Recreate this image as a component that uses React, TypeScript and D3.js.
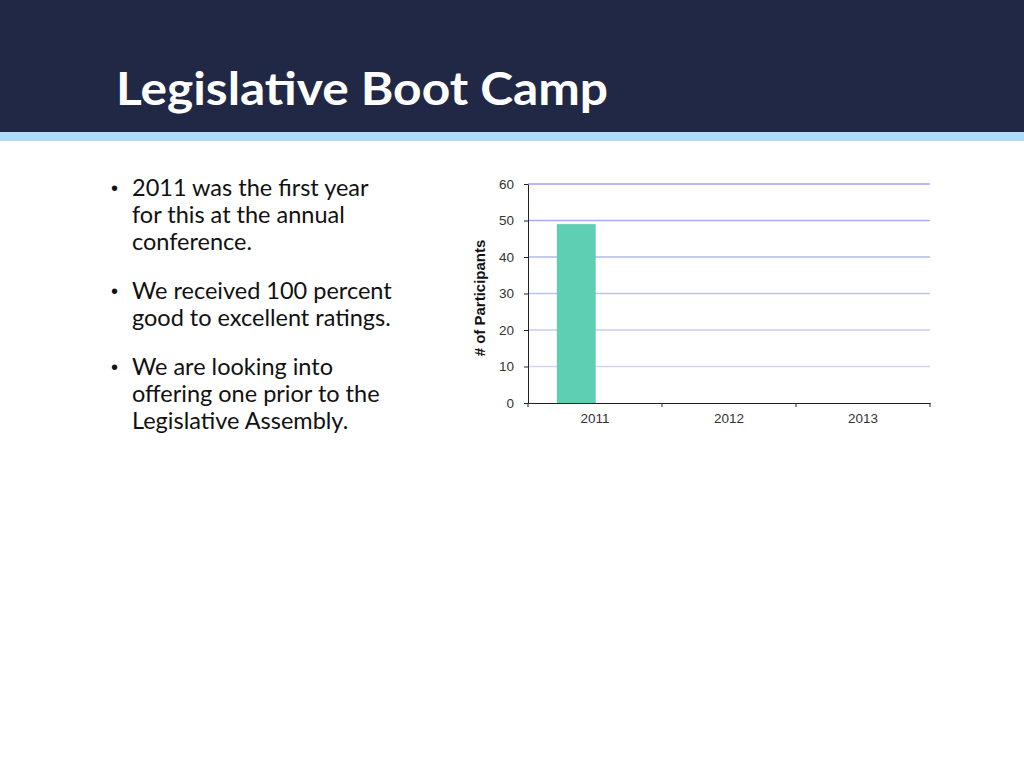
import React, {FC, useEffect, useRef} from 'react';
import * as d3 from 'd3';

const years = ['2011', '2012', '2013'];
const participants = [49, 0, 0];
const yTicks = [0, 10, 20, 30, 40, 50, 60];

const title = 'Legislative Boot Camp';
const bullets = [
  ['2011 was the first year', 'for this at the annual', 'conference.'],
  ['We received 100 percent', 'good to excellent ratings.'],
  ['We are looking into', 'offering one prior to the', 'Legislative Assembly.'],
];

const App: FC = () => {
  const ref = useRef<SVGSVGElement>(null);

  useEffect(() => {
    const root = d3.select(ref.current);
    root.selectAll('*').remove();

    // slide header
    root.append('rect').attr('width', 1024).attr('height', 768).attr('fill', '#ffffff');
    root.append('rect').attr('width', 1024).attr('height', 132).attr('fill', '#212846');
    root.append('rect').attr('y', 132).attr('width', 1024).attr('height', 9).attr('fill', '#b0dbf7');
    root
      .append('text')
      .attr('x', 116)
      .attr('y', 105)
      .attr('fill', '#ffffff')
      .attr('font-family', 'Lato, sans-serif')
      .attr('font-weight', 'bold')
      .attr('font-size', 45)
      .attr('textLength', 492)
      .attr('lengthAdjust', 'spacingAndGlyphs')
      .text(title);

    // bullets
    const txt = root.append('g').attr('font-family', 'Lato, sans-serif').attr('fill', '#111');
    let y = 196;
    bullets.forEach(para => {
      txt
        .append('text')
        .attr('x', 111)
        .attr('y', y - 1)
        .attr('font-family', 'Arial, "Liberation Sans", sans-serif')
        .attr('font-size', 20)
        .text('•');
      para.forEach(line => {
        txt.append('text').attr('x', 132).attr('y', y).attr('font-size', 23.5).text(line);
        y += 27;
      });
      y += 22;
    });

    // chart
    const margin = {left: 528, top: 184};
    const width = 402,
      height = 219;
    const g = root.append('g').attr('transform', `translate(${margin.left}, ${margin.top})`);

    const x = d3.scaleBand().domain(years).range([0, width]);
    const yScale = d3.scaleLinear().domain([0, 60]).range([height, 0]);

    // gridlines
    g.append('g')
      .selectAll('line')
      .data(yTicks.filter(d => d > 0))
      .enter()
      .append('line')
      .attr('x1', 0)
      .attr('x2', width)
      .attr('y1', d => yScale(d))
      .attr('y2', d => yScale(d))
      .attr('stroke', d => d3.interpolateRgb('#dcdff3', '#9ea5e2')(d / 60))
      .attr('stroke-width', 1.5);

    // bars
    g.append('g')
      .selectAll('rect')
      .data(participants)
      .enter()
      .append('rect')
      .attr('x', (d, i) => x(years[i])! + x.bandwidth() * 0.215)
      .attr('width', x.bandwidth() * 0.29)
      .attr('y', d => yScale(d))
      .attr('height', d => height - yScale(d))
      .attr('fill', '#5ecfb1');

    // axes
    const yAxis = g
      .append('g')
      .call(d3.axisLeft(yScale).tickValues(yTicks).tickSize(4).tickPadding(10).tickSizeOuter(0));
    const xAxis = g
      .append('g')
      .attr('transform', `translate(0, ${height})`)
      .call(d3.axisBottom(x).tickSize(0).tickPadding(10).tickSizeOuter(0));
    xAxis
      .selectAll('.sep')
      .data([0, 1, 2, 3])
      .enter()
      .append('line')
      .attr('x1', d => d * x.step())
      .attr('x2', d => d * x.step())
      .attr('y1', 0)
      .attr('y2', 4)
      .attr('stroke', '#222');
    [yAxis, xAxis].forEach(a => {
      a.selectAll('path').attr('stroke', '#222');
      a.selectAll('.tick line').attr('stroke', '#222');
      a.selectAll('text')
        .attr('font-family', 'Arial, "Liberation Sans", sans-serif')
        .attr('font-size', 13.5)
        .attr('fill', '#333');
    });

    g.append('text')
      .attr('transform', 'rotate(-90)')
      .attr('x', -114)
      .attr('y', -43)
      .attr('text-anchor', 'middle')
      .attr('font-family', 'Arial, "Liberation Sans", sans-serif')
      .attr('font-weight', 'bold')
      .attr('font-size', 15)
      .attr('fill', '#111')
      .text('# of Participants');
  }, []);

  return (
    <div style={{position: 'absolute', left: 0, top: 0}}>
      <svg ref={ref} width={1024} height={768} style={{display: 'block'}} />
    </div>
  );
};

export default App;
